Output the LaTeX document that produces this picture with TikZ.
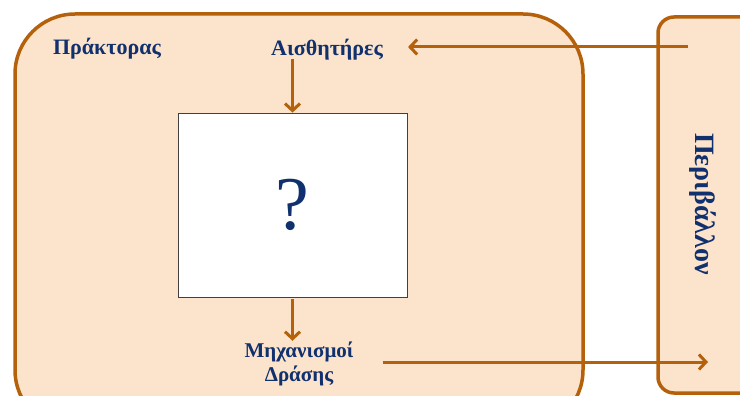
\documentclass[tikz,border=0pt]{standalone}
\usepackage{fontspec}
\setmainfont{Liberation Serif}
\usetikzlibrary{arrows.meta,positioning}
\definecolor{agentorange}{HTML}{B5600A}
\definecolor{agentfill}{HTML}{FCE4CC}
\definecolor{labelblue}{HTML}{10306E}

\begin{document}
\begin{tikzpicture}[x=1pt,y=-1pt,
		lbl/.style={text=labelblue,font=\bfseries\fontsize{22}{26}\selectfont,align=center,inner sep=1pt},
		frame/.style={draw=agentorange,line width=3.5pt,fill=agentfill,rectangle},
		flow/.style={draw=agentorange,line width=3pt,-{Straight Barb[length=7pt,width=15pt,line width=3pt]}}]
		\useasboundingbox (0,0) rectangle (740,396);
		\clip (0,0) rectangle (740,396);

		% boxes
		\node[frame,rounded corners=60pt,minimum width=568pt,minimum height=416pt] (agent) at (299,222) {};
		\node[frame,rounded corners=16pt,minimum width=142pt,minimum height=376pt] (world) at (729,205) {};
		\node[draw=black!75,line width=0.8pt,fill=white,minimum width=229pt,minimum height=184pt,
			text=labelblue,font=\fontsize{76}{76}\selectfont] (qbox) at (292.5,205) {?};

		% labels
		\node[lbl] (agentlbl) at (107,49) {Πράκτορας};
		\node[lbl] (sensors) at (327,50) {Αισθητήρες};
		\node[lbl,font=\bfseries\fontsize{21}{24}\selectfont] (actuators) at (299,364) {Μηχανισμοί\\Δράσης};
		\node[lbl,font=\bfseries\fontsize{28}{30}\selectfont,rotate=-90] (worldlbl) at (703,204) {Περιβάλλον};

		\coordinate (worldout) at (688,47);
		\coordinate (worldin) at (708,362);

		% arrows
		\draw[flow,shorten >=24pt] (worldout) -- (sensors.east |- worldout);
		\draw[flow] ([yshift=3pt]qbox.north |- sensors.south) -- (qbox.north);
		\draw[flow] ([yshift=-2pt]qbox.south) -- (qbox.south |- actuators.north);
		\draw[flow,shorten <=28pt] (actuators.east |- worldin) -- (worldin);
	\end{tikzpicture}
\end{document}
